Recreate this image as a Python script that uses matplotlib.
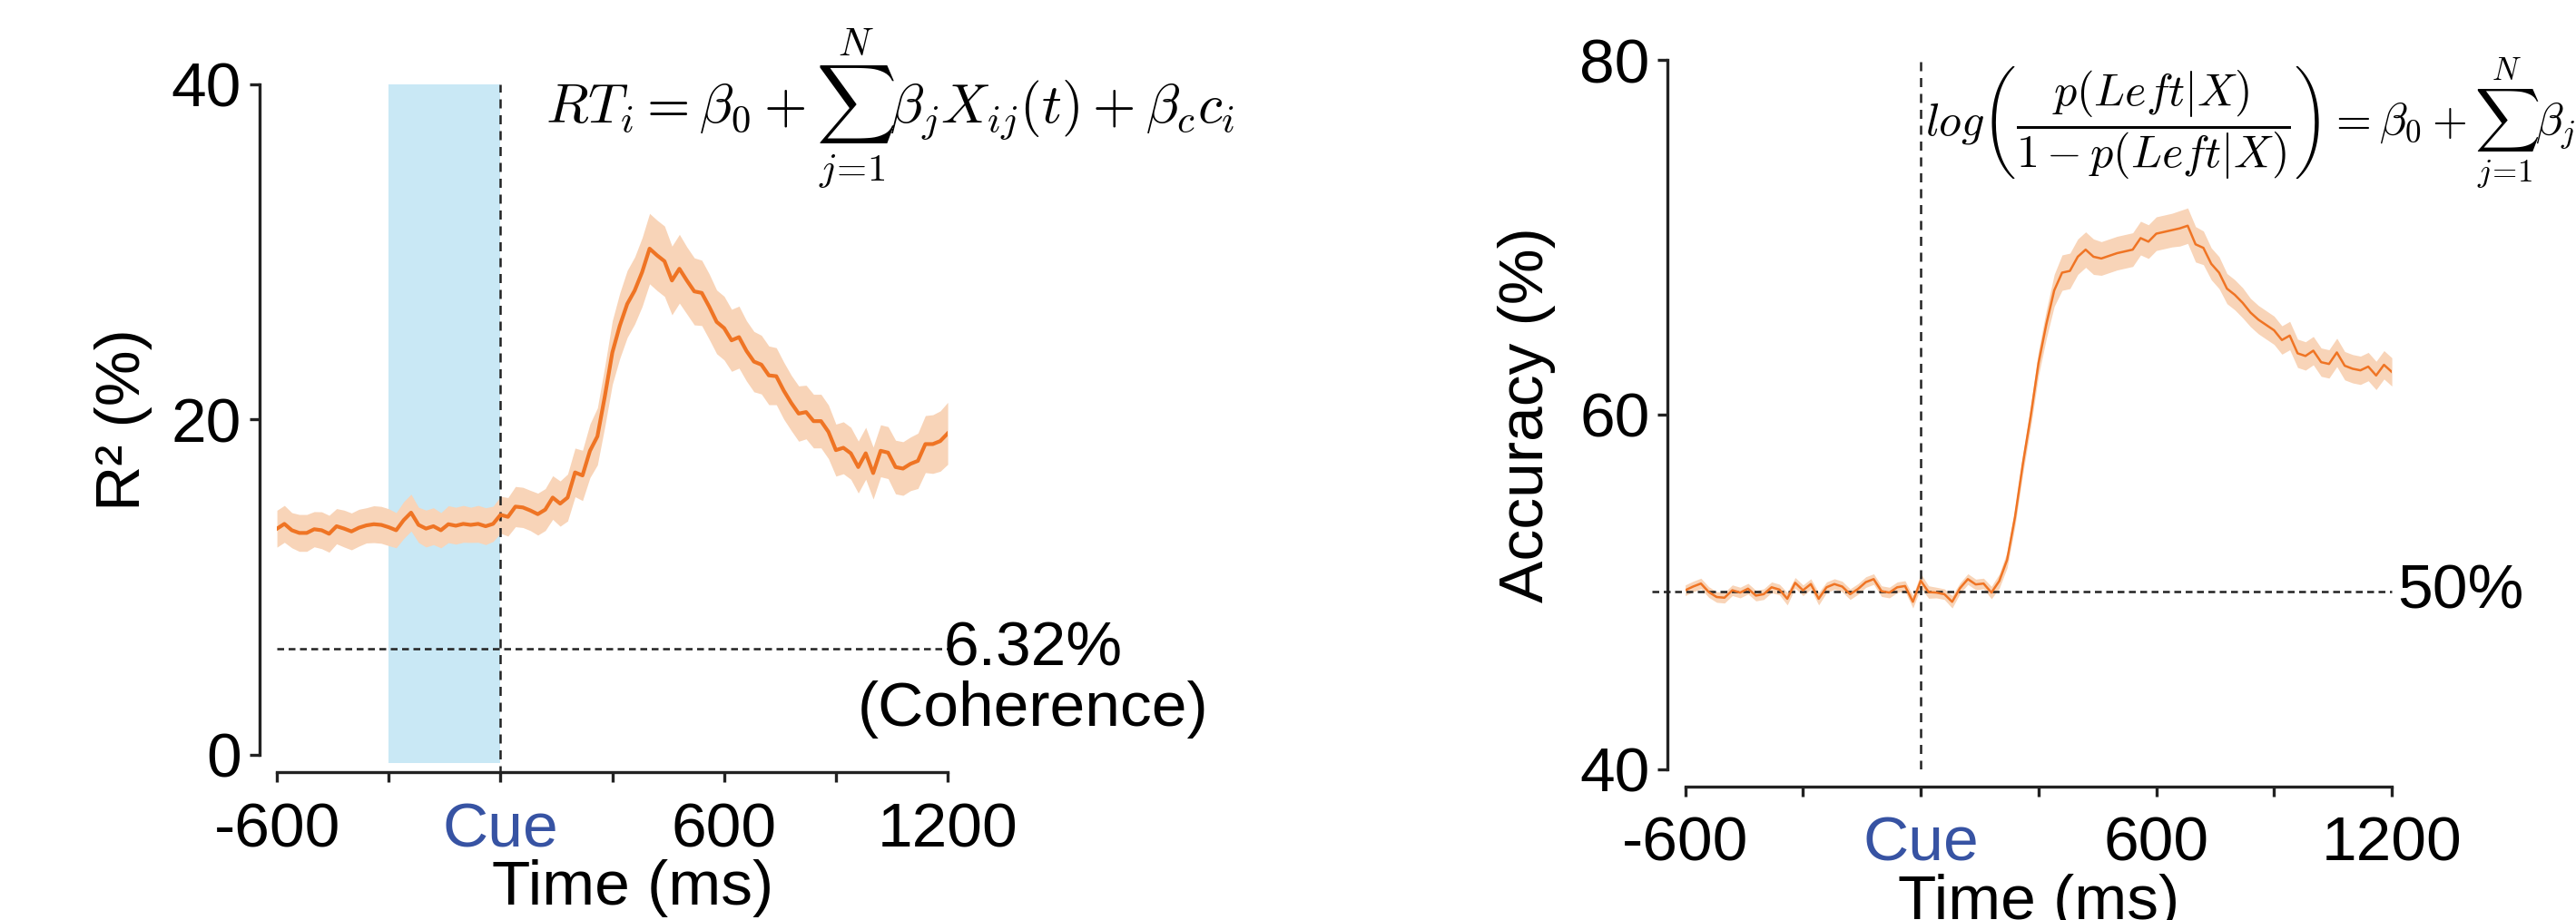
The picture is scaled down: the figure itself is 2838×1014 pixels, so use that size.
import matplotlib
matplotlib.use("Agg")
import matplotlib.pyplot as plt
import numpy as np

plt.rcParams['font.family'] = ['Liberation Sans', 'DejaVu Sans']
plt.rcParams['mathtext.fontset'] = 'cm'

# time axis (ms), 20 ms bins
time = np.arange(-600, 1201, 20)

# left panel: R^2 (%) of RT regression
r2_mean = [13.49, 13.78, 13.4, 13.24, 13.24, 13.46, 13.4, 13.19, 13.64, 13.5,
           13.33, 13.55, 13.69, 13.76, 13.72, 13.58, 13.4, 14.0, 14.45, 13.72,
           13.5, 13.64, 13.4, 13.76, 13.67, 13.78, 13.72, 13.78, 13.64, 13.78,
           14.32, 14.2, 14.81, 14.76, 14.58, 14.36, 14.63, 15.35, 14.99, 15.35, 16.85,
           16.67, 18.14, 19.0, 21.4, 24.0, 25.6, 26.9, 27.7, 28.8, 30.2,
           29.8, 29.45, 28.3, 29.0, 28.3, 27.65, 27.56, 26.74, 25.83, 25.46,
           24.73, 24.92, 24.1, 23.46, 23.28, 22.64, 22.59, 21.73, 21.0, 20.36,
           20.45, 19.91, 19.91, 19.27, 18.18, 18.32, 17.99, 17.17, 17.99, 16.81,
           18.14, 18.03, 17.17, 17.08, 17.36, 17.54, 18.54, 18.54, 18.72, 19.18]
r2_sem = [1.1, 1.1, 1.05, 1.1, 1.1, 1.05, 1.1, 1.1, 1.05, 1.1,
          1.1, 1.1, 1.05, 1.1, 1.1, 1.1, 1.05, 1.1, 1.1, 1.05,
          1.1, 1.1, 1.05, 1.1, 1.1, 1.1, 1.05, 1.1, 1.1, 1.05,
          1.1, 1.15, 1.2, 1.2, 1.2, 1.25, 1.25, 1.3, 1.35, 1.4, 1.45,
          1.5, 1.6, 1.7, 1.8, 1.9, 1.95, 2.0, 2.0, 2.05, 2.1,
          2.1, 2.1, 2.05, 2.05, 2.0, 2.0, 1.95, 1.95, 1.9, 1.9,
          1.85, 1.85, 1.8, 1.8, 1.75, 1.75, 1.7, 1.7, 1.65, 1.65,
          1.6, 1.6, 1.6, 1.6, 1.55, 1.55, 1.55, 1.55, 1.55, 1.55,
          1.55, 1.55, 1.6, 1.6, 1.6, 1.65, 1.7, 1.75, 1.8, 1.85]
coherence_r2 = 6.32

# right panel: decoding accuracy (%)
acc_mean = [50.08, 50.29, 50.46, 49.98, 49.7, 49.66, 50.08, 49.95, 50.17, 49.78,
            49.86, 50.25, 50.12, 49.6, 50.5, 50.08, 50.43, 49.6, 50.25, 50.43,
            50.29, 49.86, 50.15, 50.54, 50.71, 50.03, 49.95, 50.25, 50.32, 49.43,
            50.62, 49.98, 49.95, 49.86, 49.43, 50.2, 50.71, 50.41, 50.46, 49.95, 50.6,
            51.8, 54.2, 57.2, 59.9, 62.9, 65.1, 67.0, 68.0, 68.1, 68.9,
            69.3, 68.9, 68.8, 68.95, 69.1, 69.2, 69.3, 69.95, 69.75, 70.2,
            70.3, 70.4, 70.5, 70.65, 69.6, 69.4, 68.5, 68.0, 67.1, 66.75,
            66.3, 65.75, 65.35, 65.05, 64.75, 64.2, 64.45, 63.45, 63.3, 63.6,
            62.95, 62.85, 63.5, 62.75, 62.58, 62.49, 62.7, 62.2, 62.8, 62.4]
acc_sem = [0.3, 0.3, 0.3, 0.3, 0.3, 0.3, 0.3, 0.3, 0.3, 0.3,
           0.3, 0.3, 0.3, 0.35, 0.3, 0.3, 0.3, 0.35, 0.3, 0.3,
           0.3, 0.3, 0.3, 0.3, 0.3, 0.3, 0.3, 0.3, 0.3, 0.35,
           0.4, 0.35, 0.3, 0.3, 0.35, 0.3, 0.3, 0.3, 0.3, 0.35, 0.4,
           0.45, 0.5, 0.55, 0.6, 0.7, 0.8, 0.9, 1.0, 1.0, 1.0,
           1.0, 1.0, 0.95, 0.95, 0.95, 0.95, 0.95, 0.95, 0.95, 0.95,
           0.95, 0.95, 1.0, 1.0, 1.0, 0.95, 0.9, 0.9, 0.85, 0.85,
           0.85, 0.8, 0.8, 0.8, 0.8, 0.8, 0.8, 0.8, 0.8, 0.8,
           0.8, 0.8, 0.8, 0.8, 0.8, 0.8, 0.8, 0.8, 0.8, 0.8]
chance = 50

cue_time = 0
window = [-300, 0]
xticks = [-600, -300, 0, 300, 600, 900, 1200]
xticklabels = ['-600', '', 'Cue', '', '600', '', '1200']

line_col = '#ef7424'
band_col = '#f8d4b8'
shade_col = '#c9e8f5'
cue_col = '#3753a3'
fs = 25


def style(ax, ylim, yticks):
    ax.set_xlim(-600, 1200)
    ax.set_ylim(*ylim)
    ax.set_yticks(yticks)
    ax.set_xticks(xticks)
    ax.set_xticklabels(xticklabels)
    for s in ['top', 'right']:
        ax.spines[s].set_visible(False)
    for s in ['left', 'bottom']:
        ax.spines[s].set_position(('outward', 7))
        ax.spines[s].set_linewidth(1.2)
        ax.spines[s].set_color('#222222')
    ax.tick_params(labelsize=fs, width=1.2, length=4, color='#222222', pad=3)
    ax.tick_params(axis='x', pad=7.5)
    for lab in ax.get_xticklabels():
        if lab.get_text() == 'Cue':
            lab.set_color(cue_col)
    ax.set_xlabel('Time (ms)', fontsize=fs, labelpad=0)


t = np.array(time)
fig = plt.figure(figsize=(14.19, 5.07), dpi=200)

# ---- left panel
ax1 = fig.add_axes([0.1075, 0.1795, 0.2604, 0.7288])
m, s = np.array(r2_mean), np.array(r2_sem)
ax1.axvspan(window[0], window[1], ymin=-0.012, ymax=1, color=shade_col, lw=0,
            clip_on=False, zorder=0)
ax1.axvline(cue_time, ymin=-0.03, ymax=1, color='#222222', ls=(0, (4, 3)), lw=0.9,
            clip_on=False)
ax1.axhline(coherence_r2, color='#222222', ls=(0, (3, 2)), lw=0.9)
ax1.fill_between(t, m - s, m + s, color=band_col, lw=0)
ax1.plot(t, m, color=line_col, lw=1.5)
style(ax1, (0, 40), [0, 20, 40])
ax1.xaxis.set_label_coords(0.53, -0.155)
ax1.set_ylabel('R² (%)', fontsize=fs, labelpad=7.5)
ax1.text(1428, coherence_r2, '6.32%', fontsize=fs, ha='center', va='center')
ax1.text(1428, 2.7, '(Coherence)', fontsize=fs, ha='center', va='center')
ax1.text(121, 38.6, r'$RT_i = \beta_0 + \sum_{j\!=\!1}^{N}\beta_j X_{ij}(t) + \beta_c c_i$',
         fontsize=22, ha='left', va='center')

# ---- right panel
ax2 = fig.add_axes([0.6542, 0.1642, 0.2743, 0.7706])
m, s = np.array(acc_mean), np.array(acc_sem)
ax2.axvline(cue_time, color='#222222', ls=(0, (4, 3)), lw=0.9)
ax2.axhline(chance, xmin=-0.047, xmax=1, color='#222222', ls=(0, (3, 2)), lw=0.9,
            clip_on=False)
ax2.fill_between(t, m - s, m + s, color=band_col, lw=0)
ax2.plot(t, m, color=line_col, lw=0.9)
style(ax2, (40, 80), [40, 60, 80])
ax2.set_ylabel('Accuracy (%)', fontsize=fs, labelpad=9.5)
ax2.text(1213, chance, '50%', fontsize=fs, ha='left', va='center')
ax2.text(11, 76.4,
         r'$log\left(\dfrac{p(Left|X)}{1-p(Left|X)}\right) = \beta_0 + \sum_{j\!=\!1}^{N}\beta_j X_{ij}(t) + \beta_c c_i$',
         fontsize=18, ha='left', va='center')

fig.savefig('out.png', dpi=200)
